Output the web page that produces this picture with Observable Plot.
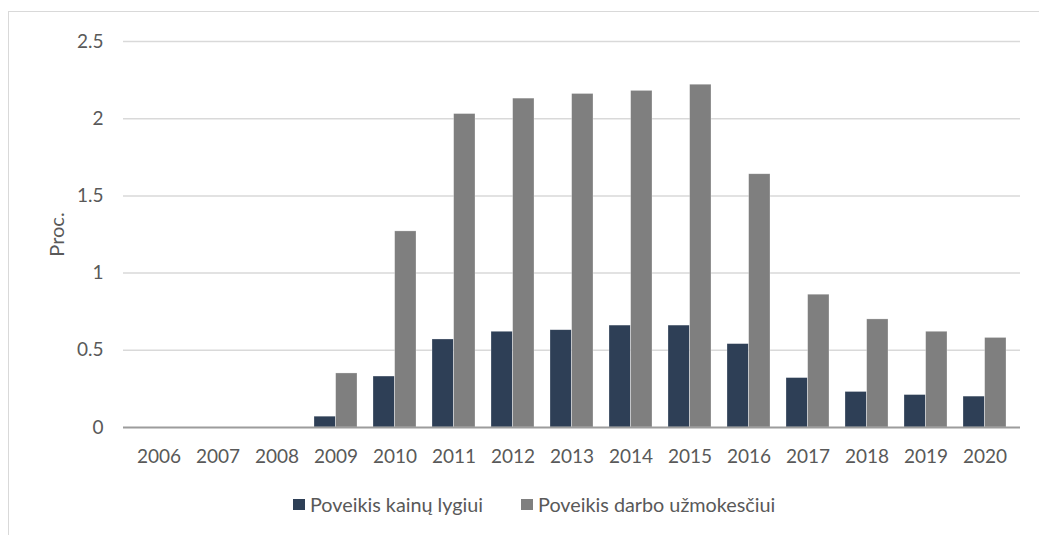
<!DOCTYPE html>
<html>
<head>
<meta charset="utf-8">
<script src="https://cdn.jsdelivr.net/npm/d3@7"></script>
<script src="https://cdn.jsdelivr.net/npm/@observablehq/plot@0.6"></script>
<style>
  html, body { margin: 0; padding: 0; background: #fff; }
  body { width: 1039px; height: 535px; overflow: hidden; position: relative; font-family: Lato, "Open Sans", sans-serif; }
  #frame { position: absolute; left: 8px; top: 11px; width: 1100px; height: 600px; border: 1px solid #d9d9d9; box-sizing: border-box; }
  #chart { position: absolute; left: 0; top: 0; }
  #legend { position: absolute; left: 293px; top: 492px; display: flex; align-items: center; font-size: 19.8px; color: #595959; white-space: nowrap; }
  .item { display: flex; align-items: center; margin-right: 38px; }
  .sw { width: 12px; height: 11px; margin-right: 5px; }
</style>
</head>
<body>
<div id="frame"></div>
<div id="chart"></div>
<div id="legend"></div>
<script>
const years = ["2006","2007","2008","2009","2010","2011","2012","2013","2014","2015","2016","2017","2018","2019","2020"];
const kainuLygiui = [0, 0, 0, 0.07, 0.33, 0.57, 0.62, 0.63, 0.66, 0.66, 0.54, 0.32, 0.23, 0.21, 0.20];
const darboUzmokesciui = [0, 0, 0, 0.35, 1.27, 2.03, 2.13, 2.16, 2.18, 2.22, 1.64, 0.86, 0.70, 0.62, 0.58];
const seriesNames = ["Poveikis kainų lygiui", "Poveikis darbo užmokesčiui"];
const seriesColors = ["#2e3f56", "#7f7f7f"];
const yTicks = [0, 0.5, 1, 1.5, 2, 2.5];
const yTickLabels = ["0", "0.5", "1", "1.5", "2", "2.5"];

const data = years.map((y, i) => ({year: y, kainu: kainuLygiui[i], darbo: darboUzmokesciui[i]}));

const W = 1039, H = 470, ML = 123, MR = 19;
const pin = 0.276, pout = 0.138;
const step = (W - ML - MR) / (years.length - pin + 2 * pout);
const half = step * (1 - pin) / 2;

const chart = Plot.plot({
  width: W,
  height: H,
  marginLeft: ML,
  marginRight: MR,
  marginTop: 41,
  marginBottom: 43,
  style: {fontFamily: "Lato, 'Open Sans', sans-serif", fontSize: "19px", color: "#595959", background: "transparent"},
  x: {type: "band", domain: years, paddingInner: pin, paddingOuter: pout},
  y: {domain: [0, 2.5]},
  marks: [
    Plot.ruleY(yTicks.slice(1), {stroke: "#d9d9d9", strokeWidth: 1.5}),
    Plot.barY(data, {x: "year", y: "kainu", fill: seriesColors[0], insetRight: half, stroke: "#ffffff", strokeOpacity: 0.45, strokeWidth: 0.6}),
    Plot.barY(data, {x: "year", y: "darbo", fill: seriesColors[1], insetLeft: half, stroke: "#ffffff", strokeOpacity: 0.45, strokeWidth: 0.6}),
    Plot.ruleY([0], {stroke: "#9c9c9c", strokeWidth: 2}),
    Plot.axisX({tickSize: 0, tickPadding: 22, label: null, fill: "#595959", fontSize: 19}),
    Plot.axisY({ticks: yTicks, tickFormat: (d) => yTickLabels[yTicks.indexOf(d)], tickSize: 0, tickPadding: 20, fill: "#595959", fontSize: 19,
      label: null}),
    Plot.axisY({ticks: [], tickSize: 0, label: "Proc.", labelAnchor: "center", labelArrow: "none", labelOffset: 74, fill: "#595959", fontSize: 20})
  ]
});
document.getElementById("chart").appendChild(chart);

const legend = document.getElementById("legend");
seriesNames.forEach((name, i) => {
  const item = document.createElement("div");
  item.className = "item";
  const sw = document.createElement("div");
  sw.className = "sw";
  sw.style.background = seriesColors[i];
  const t = document.createElement("span");
  t.textContent = name;
  item.appendChild(sw);
  item.appendChild(t);
  legend.appendChild(item);
});
</script>
</body>
</html>
